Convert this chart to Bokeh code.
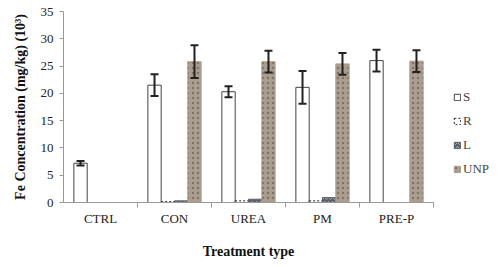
from bokeh.plotting import figure
from bokeh.models import (ColumnDataSource, Whisker, TeeHead, FixedTicker, Legend,
                          LegendItem, Range1d)
from bokeh.embed import file_html
from bokeh.resources import INLINE

categories = ["CTRL", "CON", "UREA", "PM", "PRE-P"]
series = ["S", "R", "L", "UNP"]
S_vals = [7.2, 21.5, 20.3, 21.1, 26.0]
S_err = [0.4, 2.0, 1.0, 3.0, 2.0]
R_vals = [0.0, 0.15, 0.3, 0.3, 0.0]
L_vals = [0.0, 0.3, 0.6, 0.9, 0.0]
UNP_vals = [0.0, 25.8, 25.8, 25.4, 25.9]
UNP_err = [0.0, 3.0, 2.0, 2.0, 2.0]
y_ticks = [0, 5, 10, 15, 20, 25, 30, 35]

FONT = "Liberation Serif"
centers = [i + 0.5 for i in range(len(categories))]
offsets = [-0.27, -0.09, 0.09, 0.27]
bw = 0.18

p = figure(frame_width=370, frame_height=191, output_backend="svg", toolbar_location=None,
           x_range=Range1d(0, 5), y_range=Range1d(0, 35),
           min_border_left=63, min_border_right=67, min_border_top=11,
           min_border_bottom=65)
p.outline_line_color = None
p.grid.grid_line_color = None
p.background_fill_color = "white"

styles = [
    dict(fill_color="white", line_color="#444444", line_width=1),
    dict(fill_color="white", line_color="#222222", line_width=1, line_dash="2 2"),
    dict(fill_color="#5a616b", line_color="#5a616b", hatch_pattern="horizontal_wave",
         hatch_color="#a9aeb4", hatch_scale=4, hatch_weight=1),
    dict(fill_color="#ab9e90", line_color="#ab9e90", hatch_pattern="dot",
         hatch_color="#7f7264", hatch_scale=5, hatch_weight=1.5),
]
vals = [S_vals, R_vals, L_vals, UNP_vals]
renderers = []
for k, (name, v) in enumerate(zip(series, vals)):
    xs = [c + offsets[k] for c in centers]
    src = ColumnDataSource(dict(x=xs, top=v))
    r = p.vbar(x="x", top="top", bottom=0, width=bw, source=src, **styles[k])
    renderers.append(r)

for k, (v, e) in [(0, (S_vals, S_err)), (3, (UNP_vals, UNP_err))]:
    xs, lo, hi = [], [], []
    for c, val, err in zip(centers, v, e):
        if err > 0:
            xs.append(c + offsets[k]); lo.append(val - err); hi.append(val + err)
    src = ColumnDataSource(dict(x=xs, lo=lo, hi=hi))
    w = Whisker(base="x", lower="lo", upper="hi", source=src, level="overlay",
                line_color="#222222", line_width=2,
                upper_head=TeeHead(size=8, line_color="#222222", line_width=2),
                lower_head=TeeHead(size=8, line_color="#222222", line_width=2))
    p.add_layout(w)

# axes
p.xaxis.ticker = FixedTicker(ticks=centers, minor_ticks=[1, 2, 3, 4, 5])
p.xaxis.major_label_overrides = {c: n for c, n in zip(centers, categories)}
p.xaxis.major_tick_line_color = None
p.xaxis.minor_tick_line_color = "#999999"
p.xaxis.minor_tick_out = 5
p.xaxis.minor_tick_in = 0
p.xaxis.axis_line_color = "#999999"
p.xaxis.major_label_standoff = 2
p.xaxis.major_label_text_font = FONT
p.xaxis.major_label_text_font_size = "13px"
p.xaxis.major_label_text_color = "#222222"
p.xaxis.axis_label = "Treatment type"
p.xaxis.axis_label_text_font = FONT
p.xaxis.axis_label_text_font_size = "14px"
p.xaxis.axis_label_text_font_style = "bold"
p.xaxis.axis_label_standoff = 15
p.xaxis.axis_label_text_color = "#111111"

p.yaxis.ticker = FixedTicker(ticks=y_ticks)
p.yaxis.axis_line_color = "#999999"
p.yaxis.major_tick_line_color = "#999999"
p.yaxis.major_tick_out = 4
p.yaxis.major_tick_in = 0
p.yaxis.minor_tick_line_color = None
p.yaxis.major_label_standoff = 6
p.yaxis.major_label_text_font = FONT
p.yaxis.major_label_text_font_size = "13px"
p.yaxis.major_label_text_color = "#222222"
p.yaxis.axis_label = "Fe Concentration (mg/kg) (10³)"
p.yaxis.axis_label_text_font = FONT
p.yaxis.axis_label_text_font_size = "14px"
p.yaxis.axis_label_text_font_style = "bold"
p.yaxis.axis_label_standoff = 10
p.yaxis.axis_label_text_color = "#111111"

legend = Legend(items=[LegendItem(label=n, renderers=[r]) for n, r in zip(series, renderers)],
                location=(20, 25), border_line_color=None,
                background_fill_alpha=0, glyph_width=8, glyph_height=8,
                label_text_font=FONT, label_text_font_size="13px",
                label_height=16, spacing=8, padding=2, margin=4,
                label_standoff=2)
p.add_layout(legend, "right")

open("out.html", "w").write(file_html(p, INLINE))
